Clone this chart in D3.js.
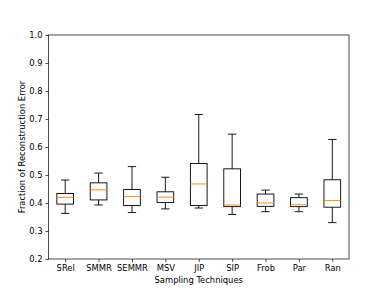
<!DOCTYPE html>
<html>
<head>
<meta charset="utf-8">
<script src="https://cdn.jsdelivr.net/npm/d3@7"></script>
<style>
  body { margin: 0; background: #fff; }
  svg text { font-family: "DejaVu Sans", sans-serif; }
</style>
</head>
<body>
<svg id="chart" width="388" height="291"></svg>
<script>
// box stats
const techniques = ["SRel", "SMMR", "SEMMR", "MSV", "JIP", "SIP", "Frob", "Par", "Ran"];
const whiskerLow  = [0.363, 0.393, 0.366, 0.379, 0.382, 0.359, 0.369, 0.369, 0.330];
const q1          = [0.396, 0.411, 0.391, 0.402, 0.391, 0.387, 0.388, 0.387, 0.385];
const medians     = [0.420, 0.447, 0.423, 0.421, 0.468, 0.393, 0.400, 0.394, 0.409];
const q3          = [0.434, 0.472, 0.448, 0.440, 0.541, 0.522, 0.432, 0.419, 0.483];
const whiskerHigh = [0.482, 0.507, 0.530, 0.492, 0.716, 0.646, 0.446, 0.432, 0.627];
const yTicks = [0.2, 0.3, 0.4, 0.5, 0.6, 0.7, 0.8, 0.9, 1.0];

const margin = { left: 48.5, right: 349, top: 35, bottom: 259 };
const svg = d3.select("#chart");

const x = d3.scalePoint().domain(techniques).range([margin.left, margin.right]).padding(0.5);
const y = d3.scaleLinear().domain([0.2, 1.0]).range([margin.bottom, margin.top]);

const boxW = x.step() * 0.5;
const capW = boxW * 0.5;

const data = techniques.map((t, i) => ({
  t, lo: whiskerLow[i], q1: q1[i], med: medians[i], q3: q3[i], hi: whiskerHigh[i]
}));

const g = svg.append("g").selectAll("g").data(data).join("g")
  .attr("transform", d => `translate(${x(d.t)},0)`);

// whiskers
g.append("line").attr("x1", 0).attr("x2", 0)
  .attr("y1", d => y(d.q3)).attr("y2", d => y(d.hi))
  .attr("stroke", "#000").attr("stroke-width", 0.9);
g.append("line").attr("x1", 0).attr("x2", 0)
  .attr("y1", d => y(d.q1)).attr("y2", d => y(d.lo))
  .attr("stroke", "#000").attr("stroke-width", 0.9);
// caps
g.append("line").attr("x1", -capW / 2).attr("x2", capW / 2)
  .attr("y1", d => y(d.hi)).attr("y2", d => y(d.hi))
  .attr("stroke", "#000").attr("stroke-width", 0.9);
g.append("line").attr("x1", -capW / 2).attr("x2", capW / 2)
  .attr("y1", d => y(d.lo)).attr("y2", d => y(d.lo))
  .attr("stroke", "#000").attr("stroke-width", 0.9);
// box
g.append("rect").attr("x", -boxW / 2).attr("width", boxW)
  .attr("y", d => y(d.q3)).attr("height", d => y(d.q1) - y(d.q3))
  .attr("fill", "none").attr("stroke", "#000").attr("stroke-width", 0.9);
// median
g.append("line").attr("x1", -boxW / 2).attr("x2", boxW / 2)
  .attr("y1", d => y(d.med)).attr("y2", d => y(d.med))
  .attr("stroke", "#ff7f0e").attr("stroke-width", 0.9);

// axes
const xAxis = svg.append("g").attr("transform", `translate(0,${margin.bottom})`)
  .call(d3.axisBottom(x).tickSize(3).tickPadding(3));
const yAxis = svg.append("g").attr("transform", `translate(${margin.left},0)`)
  .call(d3.axisLeft(y).tickValues(yTicks).tickFormat(d3.format(".1f")).tickSize(3).tickPadding(3));
[xAxis, yAxis].forEach(a => {
  a.select(".domain").remove();
  a.selectAll("text").attr("font-size", 8.4).attr("fill", "#000").attr("font-family", "DejaVu Sans");
  a.selectAll("line").attr("stroke", "#000").attr("stroke-width", 0.7);
});

// frame
svg.append("rect").attr("x", margin.left).attr("y", margin.top)
  .attr("width", margin.right - margin.left).attr("height", margin.bottom - margin.top)
  .attr("fill", "none").attr("stroke", "#000").attr("stroke-width", 0.7);

svg.append("text").attr("x", (margin.left + margin.right) / 2).attr("y", 283)
  .attr("text-anchor", "middle").attr("font-size", 8.4).text("Sampling Techniques");
svg.append("text")
  .attr("transform", `translate(24.5,${(margin.top + margin.bottom) / 2}) rotate(-90)`)
  .attr("text-anchor", "middle").attr("font-size", 8.4).text("Fraction of Reconstruction Error");
</script>
</body>
</html>
